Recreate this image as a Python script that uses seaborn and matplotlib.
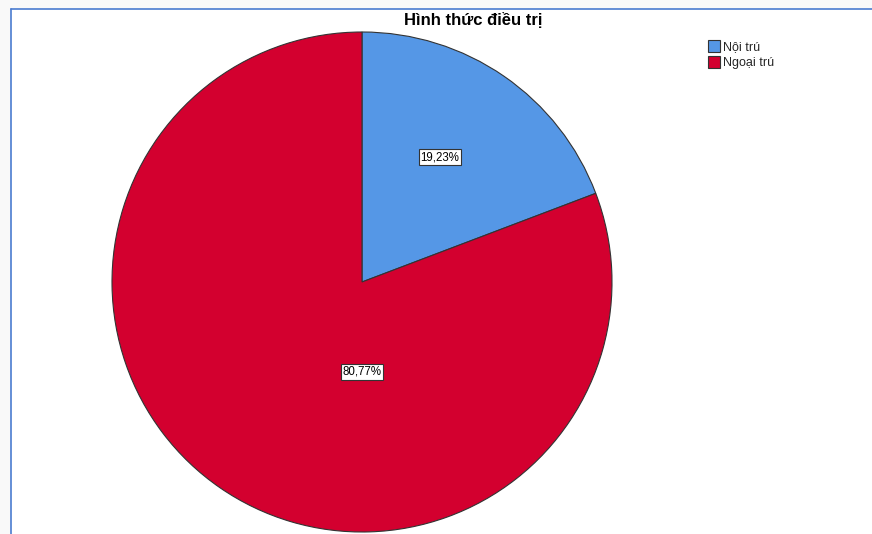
import matplotlib
matplotlib.use("Agg")
import matplotlib.pyplot as plt
import seaborn as sns
from matplotlib.patches import Rectangle, Patch
from matplotlib.lines import Line2D

categories = ["Nội trú", "Ngoại trú"]
values = [19.23, 80.77]
labels = ["19,23%", "80,77%"]
colors = ["#5597e6", "#d3002f"]
title = "Hình thức điều trị"

sns.set_theme(style="white")
plt.rcParams['font.family'] = ['Liberation Sans', 'DejaVu Sans']

W, H = 872, 534
fig = plt.figure(figsize=(W / 100, H / 100), dpi=100)
fig.patch.set_facecolor("#f9f9f9")

# white panel and blue frame
fig.add_artist(Rectangle((11 / W, 0), 1 - 11 / W, 1 - 9 / H, transform=fig.transFigure,
                         facecolor="white", edgecolor="none", zorder=0))
fig.add_artist(Line2D([10.5 / W, 10.5 / W], [0, 1 - 8.5 / H], transform=fig.transFigure,
                      color="#4a7bd0", lw=1.2, zorder=1))
fig.add_artist(Line2D([10.5 / W, 1], [1 - 8.5 / H, 1 - 8.5 / H], transform=fig.transFigure,
                      color="#4a7bd0", lw=1.2, zorder=1))

cx, cy, r = 362, 282, 250
ax = fig.add_axes([(cx - r) / W, (H - cy - r) / H, 2 * r / W, 2 * r / H])
ax.set_facecolor("none")
wedges, _ = ax.pie(values, colors=colors, startangle=90, counterclock=False,
                   wedgeprops=dict(edgecolor="#333333", linewidth=0.8))
ax.set_xlim(-1, 1)
ax.set_ylim(-1, 1)
ax.set_aspect("auto")
ax.axis("off")

label_pos = [(0.312, 0.50), (0.0, -0.36)]
for (x, y), lab in zip(label_pos, labels):
    ax.text(x, y, lab, ha="center", va="center", fontsize=8.3, color="black",
            bbox=dict(boxstyle="square,pad=0.15", facecolor="white", edgecolor="#333333", linewidth=0.8))

fig.text(473 / W, 1 - 19.5 / H, title, ha="center", va="center", fontsize=12,
         fontweight="bold", color="black")

handles = [Patch(facecolor=c, edgecolor="#333333", linewidth=0.8) for c in colors]
fig.legend(handles, categories, loc="upper left", bbox_to_anchor=(699 / W, 1 - 31 / H),
           frameon=False, fontsize=9, handlelength=1.0, handleheight=1.1,
           handletextpad=0.2, labelspacing=0.25, borderpad=0.2)

fig.savefig("out.png", dpi=100, facecolor=fig.get_facecolor())
